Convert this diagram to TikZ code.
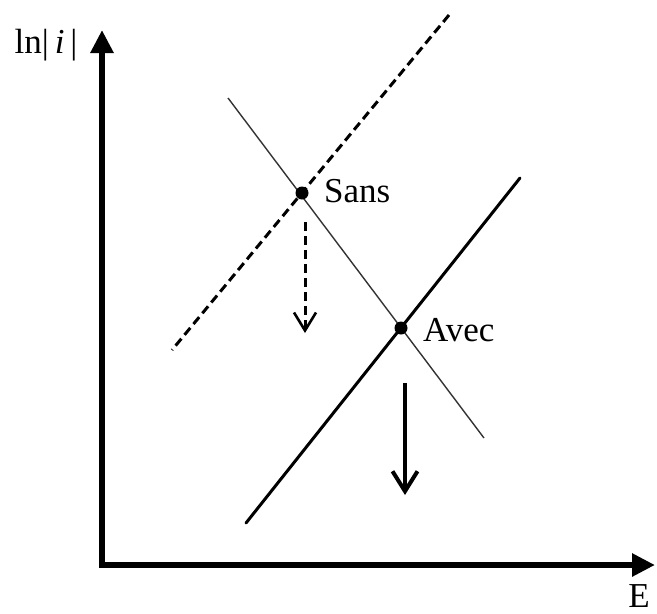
\documentclass[tikz,border=0pt]{standalone}
\usepackage{fontspec}
\setmainfont{Liberation Serif}
\usetikzlibrary{arrows.meta}
\begin{document}
\begin{tikzpicture}[x=1pt,y=-1pt,
  axis/.style={line width=6.5pt, line join=miter},
  thinline/.style={line width=1.4pt, black!80},
  thickline/.style={line width=3pt, line cap=round},
  dashline/.style={line width=3pt, dash pattern=on 9pt off 5pt},
  dot/.style={circle, fill=black, inner sep=0pt, minimum size=13pt},
  lab/.style={font=\fontsize{35}{40}\selectfont, inner sep=0pt}
]
\useasboundingbox (0,0) rectangle (657,614);
% axes
\coordinate (ytip) at (102,30);
\coordinate (origin) at (102,565);
\coordinate (xtip) at (655,565);
\draw[axis, {Triangle[length=23pt,width=22pt]}-{Triangle[length=23pt,width=22pt]}] (ytip) -- (origin) -- (xtip);
\node[lab, anchor=center] (ylab) at (46,45) {ln|\,\textit{i}\,|};
\node[lab, anchor=center] (xlab) at (639,596) {E};
% lines
\coordinate (d1) at (172,350);
\coordinate (d2) at (449,15);
\coordinate (s1) at (246,523);
\coordinate (s2) at (520,178);
\coordinate (t1) at (228,98);
\coordinate (t2) at (484,438);
\draw[thinline] (t1) -- (t2);
\draw[dashline] (d2) -- (d1);
\draw[thickline] (s1) -- (s2);
% points
\node[dot] (sans) at (302,193) {};
\node[dot] (avec) at (401,328) {};
\node[lab, anchor=west] (sanslab) at (324,191) {Sans};
\node[lab, anchor=west] (aveclab) at (423,330) {Avec};
% arrows
\coordinate (da1) at (305,222);
\coordinate (da2) at (305,333);
\draw[line width=3pt, dash pattern=on 9pt off 5pt, -{Straight Barb[length=18pt,width=22pt,line width=2.6pt]}] (da1) -- (da2);
\coordinate (sa1) at (405,383);
\coordinate (sa2) at (405,495);
\draw[line width=4pt, -{Straight Barb[length=20pt,width=25pt,line width=4pt]}] (sa1) -- (sa2);
\end{tikzpicture}
\end{document}
